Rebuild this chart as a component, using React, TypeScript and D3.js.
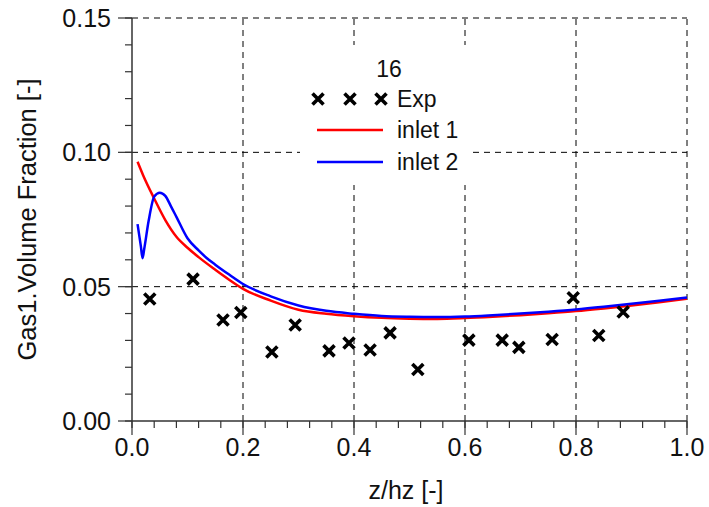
import React from "react";
import * as d3 from "d3";

const expX = [0.032, 0.110, 0.164, 0.196, 0.252, 0.294, 0.355, 0.391, 0.429, 0.465, 0.515, 0.607, 0.667, 0.697, 0.757, 0.795, 0.841, 0.885];
const expY = [0.0454, 0.0528, 0.0376, 0.0404, 0.0257, 0.0357, 0.0261, 0.0290, 0.0264, 0.0328, 0.0192, 0.0301, 0.0301, 0.0274, 0.0303, 0.0459, 0.0318, 0.0406];

const inlet1X = [0.01, 0.02, 0.04, 0.06, 0.08, 0.10, 0.12, 0.15, 0.175, 0.20, 0.25, 0.30, 0.35, 0.40, 0.45, 0.50, 0.55, 0.60, 0.65, 0.70, 0.75, 0.80, 0.85, 0.90, 0.95, 1.00];
const inlet1Y = [0.0965, 0.0915, 0.0828, 0.0748, 0.0686, 0.0645, 0.0610, 0.0563, 0.0526, 0.0492, 0.0448, 0.0414, 0.0399, 0.0390, 0.0384, 0.0381, 0.0380, 0.0383, 0.0388, 0.0394, 0.0401, 0.0409, 0.0419, 0.0430, 0.0442, 0.0455];

const inlet2X = [0.01, 0.016, 0.019, 0.022, 0.03, 0.04, 0.05, 0.06, 0.07, 0.08, 0.10, 0.12, 0.135, 0.15, 0.175, 0.20, 0.25, 0.30, 0.35, 0.40, 0.45, 0.50, 0.55, 0.60, 0.65, 0.70, 0.75, 0.80, 0.85, 0.90, 0.95, 1.00];
const inlet2Y = [0.0733, 0.0650, 0.0606, 0.0640, 0.0745, 0.0835, 0.0850, 0.0838, 0.0800, 0.0760, 0.0680, 0.0635, 0.0606, 0.0582, 0.0545, 0.0510, 0.0464, 0.0430, 0.0410, 0.0399, 0.0391, 0.0388, 0.0387, 0.0389, 0.0394, 0.0400, 0.0407, 0.0415, 0.0425, 0.0436, 0.0448, 0.0460];

const xTicks = [0, 0.2, 0.4, 0.6, 0.8, 1.0];
const yTicks = [0, 0.05, 0.1, 0.15];
const legendTitle = "16";
const legendLabels = ["Exp", "inlet 1", "inlet 2"];
const xTitle = "z/hz [-]";
const yTitle = "Gas1.Volume Fraction [-]";

const W = 709, H = 507;
const L = 132, R = 687, T = 18, B = 421;
const FONT = "'Liberation Sans', Arial, Helvetica, sans-serif";

export default function App() {
  const x = d3.scaleLinear().domain([0, 1]).range([L, R]);
  const y = d3.scaleLinear().domain([0, 0.15]).range([B, T]);
  const xMinor = d3.range(0, 1.0001, 0.04);
  const yMinor = d3.range(0, 0.15001, 0.01);
  const line = d3.line<[number, number]>().x(d => x(d[0])).y(d => y(d[1])).curve(d3.curveMonotoneX);
  const d1 = line(inlet1X.map((v, i) => [v, inlet1Y[i]]) as [number, number][]) || "";
  const d2 = line(inlet2X.map((v, i) => [v, inlet2Y[i]]) as [number, number][]) || "";
  const cross = (cx: number, cy: number, k: string | number) => (
    <path key={k} d={`M${cx - 5.5},${cy - 5.5}L${cx + 5.5},${cy + 5.5}M${cx - 5.5},${cy + 5.5}L${cx + 5.5},${cy - 5.5}`} stroke="#000" strokeWidth={3.6} />
  );
  const lg = { x: 300, y: 45, w: 170, h: 140 };
  return (
    <svg width={W} height={H} style={{ position: "absolute", left: 0, top: 0, fontFamily: FONT }}>
      <rect width={W} height={H} fill="#fff" />
      {xTicks.slice(1).map((t, i) => (
        <line key={"gx" + i} x1={x(t)} x2={x(t)} y1={B} y2={T} stroke="#000" strokeWidth={1} strokeDasharray="6,5" />
      ))}
      {yTicks.slice(1).map((t, i) => (
        <line key={"gy" + i} x1={L} x2={R} y1={y(t)} y2={y(t)} stroke="#000" strokeWidth={1} strokeDasharray="6,5" />
      ))}
      <rect x={lg.x} y={lg.y} width={lg.w} height={lg.h} fill="#fff" />
      <line x1={L} x2={L} y1={T} y2={B} stroke="#333" strokeWidth={1.5} />
      <line x1={L} x2={R} y1={B} y2={B} stroke="#333" strokeWidth={1.5} />
      {yMinor.map((t, i) => (
        <line key={"ym" + i} x1={L - 7} x2={L} y1={y(t)} y2={y(t)} stroke="#333" strokeWidth={1.2} />
      ))}
      {yTicks.map((t, i) => (
        <line key={"yM" + i} x1={L - 14} x2={L} y1={y(t)} y2={y(t)} stroke="#333" strokeWidth={1.2} />
      ))}
      {xMinor.map((t, i) => (
        <line key={"xm" + i} x1={x(t)} x2={x(t)} y1={B} y2={B + 7} stroke="#333" strokeWidth={1.2} />
      ))}
      {xTicks.map((t, i) => (
        <line key={"xM" + i} x1={x(t)} x2={x(t)} y1={B} y2={B + 14} stroke="#333" strokeWidth={1.2} />
      ))}
      {yTicks.map((t, i) => (
        <text key={"yl" + i} x={L - 21} y={y(t) + 9} textAnchor="end" fontSize={25} fill="#111">{d3.format(".2f")(t)}</text>
      ))}
      {xTicks.map((t, i) => (
        <text key={"xl" + i} x={x(t)} y={B + 35} textAnchor="middle" fontSize={25} fill="#111">{d3.format(".1f")(t)}</text>
      ))}
      <text x={406} y={499} textAnchor="middle" fontSize={25} fill="#111">{xTitle}</text>
      <text transform={`translate(36,${(T + B) / 2}) rotate(-90)`} textAnchor="middle" fontSize={25.5} fill="#111">{yTitle}</text>
      <path d={d1} fill="none" stroke="#ff0000" strokeWidth={2.5} />
      <path d={d2} fill="none" stroke="#0000ff" strokeWidth={2.5} />
      {expX.map((v, i) => cross(x(v), y(expY[i]), "e" + i))}
      <text x={389} y={77} textAnchor="middle" fontSize={23} fill="#111">{legendTitle}</text>
      {[318, 350, 381].map((cx, i) => cross(cx, 99, "lg" + i))}
      <text x={397} y={107} fontSize={23} fill="#111">{legendLabels[0]}</text>
      <line x1={317} x2={383} y1={130} y2={130} stroke="#ff0000" strokeWidth={2.5} />
      <text x={397} y={138} fontSize={23} fill="#111">{legendLabels[1]}</text>
      <line x1={317} x2={383} y1={162} y2={162} stroke="#0000ff" strokeWidth={2.5} />
      <text x={397} y={170} fontSize={23} fill="#111">{legendLabels[2]}</text>
    </svg>
  );
}
